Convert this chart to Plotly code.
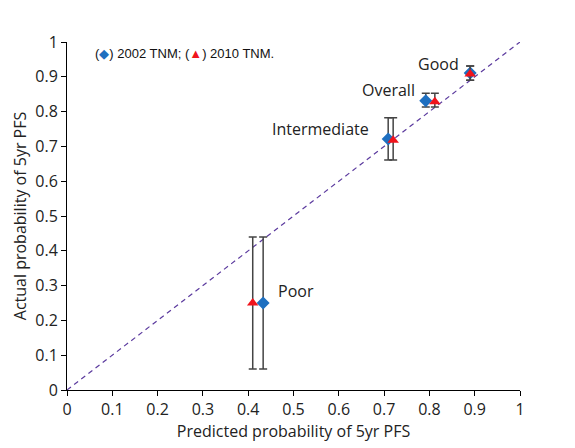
import plotly.graph_objects as go

groups = ["Poor", "Intermediate", "Overall", "Good"]
pred_2002 = [0.433, 0.709, 0.792, 0.89]
act_2002 = [0.25, 0.721, 0.831, 0.911]
lo_2002 = [0.06, 0.661, 0.813, 0.89]
hi_2002 = [0.44, 0.782, 0.853, 0.931]
pred_2010 = [0.41, 0.72, 0.812, 0.89]
act_2010 = [0.25, 0.718, 0.828, 0.908]
lo_2010 = [0.06, 0.661, 0.813, 0.89]
hi_2010 = [0.44, 0.782, 0.853, 0.931]
label_x = [0.466, 0.452, 0.651, 0.775]
label_y = [0.285, 0.75, 0.862, 0.937]
ticks = [round(i * 0.1, 1) for i in range(11)]
tick_text = ["0", "0.1", "0.2", "0.3", "0.4", "0.5", "0.6", "0.7", "0.8", "0.9", "1"]

FONT = "Open Sans, DejaVu Sans"

fig = go.Figure()
fig.add_trace(go.Scatter(x=[0, 1], y=[0, 1], mode="lines",
                         line=dict(color="#5b3a9e", width=1.2, dash="5px,4px"),
                         hoverinfo="skip", showlegend=False))

def err(act, lo, hi):
    return dict(type="data", symmetric=False,
                array=[h - a for a, h in zip(act, hi)],
                arrayminus=[a - l for a, l in zip(act, lo)],
                color="#444444", thickness=1.5, width=4)

fig.add_trace(go.Scatter(x=pred_2002, y=act_2002, mode="markers",
                         marker=dict(symbol="diamond", size=10, color="#1e6fc0"),
                         error_y=err(act_2002, lo_2002, hi_2002),
                         name="2002 TNM", showlegend=False))
fig.add_trace(go.Scatter(x=pred_2010, y=act_2010, mode="markers",
                         marker=dict(symbol="triangle-up", size=10, color="#f0141c"),
                         error_y=err(act_2010, lo_2010, hi_2010),
                         name="2010 TNM", showlegend=False))

for g, lx, ly in zip(groups, label_x, label_y):
    fig.add_annotation(x=lx, y=ly, text=g, showarrow=False, xanchor="left", xshift=-2,
                       font=dict(family=FONT, size=16, color="#222"))

fig.add_annotation(x=0.062, y=0.966, xref="x", yref="y", xanchor="left", showarrow=False,
                   xshift=-2,
                   text="(<span style='color:#1e6fc0'>◆</span>) 2002 TNM; (<span style='color:#f0141c'>▲</span>) 2010 TNM.",
                   font=dict(family="Liberation Sans, Arial", size=13, color="#111"))

axis_common = dict(range=[0, 1], tickvals=ticks, ticktext=tick_text, showgrid=False,
                   zeroline=False, showline=True, linecolor="black", linewidth=1,
                   ticks="outside", ticklen=5, tickcolor="black",
                   tickfont=dict(family=FONT, size=16, color="#222"))

fig.update_layout(
    width=575, height=448,
    margin=dict(l=59, r=63, t=34, b=66),
    plot_bgcolor="white", paper_bgcolor="white",
    xaxis=dict(**axis_common, title=dict(text="Predicted probability of 5yr PFS", standoff=2,
               font=dict(family=FONT, size=16, color="#222"))),
    yaxis=dict(**axis_common, title=dict(text="Actual probability of 5yr PFS", standoff=4,
               font=dict(family=FONT, size=16, color="#222"))),
)

fig.write_html("out.html")
